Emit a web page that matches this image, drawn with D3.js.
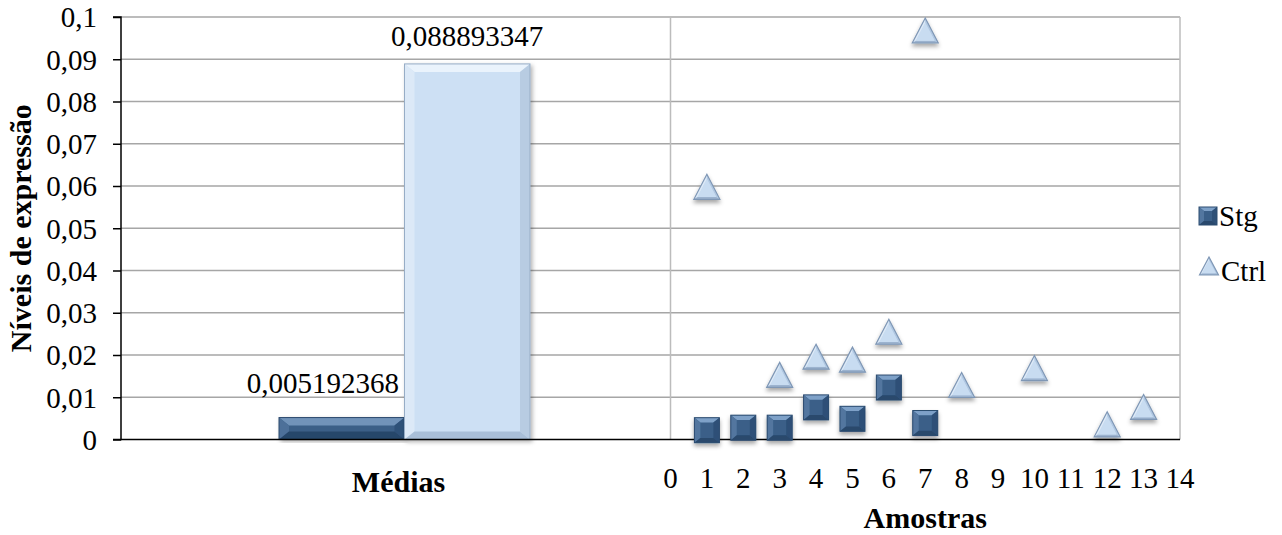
<!DOCTYPE html>
<html>
<head>
<meta charset="utf-8">
<script src="https://cdn.jsdelivr.net/npm/d3@7"></script>
<style>
  html, body { margin: 0; padding: 0; background: #fff; }
  svg { display: block; }
</style>
</head>
<body>
<svg id="chart" width="1282" height="535"></svg>
<script>
// Mean expression per group
const categories = ["Médias"];
const seriesNames = ["Stg", "Ctrl"];
const meanValues = [0.005192368, 0.088893347];
const meanLabels = ["0,005192368", "0,088893347"];

// Individual samples
const stgSamples = [1, 2, 3, 4, 5, 6, 7];
const stgValues = [0.0022, 0.0028, 0.0028, 0.0076, 0.0049, 0.0123, 0.0039];
const ctrlSamples = [1, 3, 4, 5, 6, 7, 8, 10, 12, 13];
const ctrlValues = [0.0598, 0.0153, 0.0196, 0.0189, 0.0255, 0.0968, 0.0129, 0.0169, 0.0036, 0.0077];

// Axis ticks
const yTicks = [0, 0.01, 0.02, 0.03, 0.04, 0.05, 0.06, 0.07, 0.08, 0.09, 0.1];
const xSampleTicks = d3.range(0, 15);

const FONT = "'Liberation Serif', Tinos, 'Times New Roman', 'DejaVu Serif', serif";
const FS = 29, FS_TITLE = 30;

const svg = d3.select("#chart").attr("font-family", FONT);
const plotLeft = 121, plotRight = 1180, plotTop = 17, plotBottom = 439.5;
const splitX = 670.5;

const y = d3.scaleLinear().domain([0, 0.1]).range([plotBottom, plotTop]);
const xSample = d3.scaleLinear().domain([0, 14]).range([splitX, plotRight]);
const xCat = d3.scaleBand().domain(categories).range([plotLeft, 688]).paddingInner(0).paddingOuter(0.6295);
const xSeries = d3.scaleBand().domain(seriesNames).range([0, xCat.bandwidth()]);

const fmt = v => String(+v.toFixed(2)).replace(".", ",");

// Filters
const defs = svg.append("defs");
const sh = defs.append("filter").attr("id", "shadow").attr("x", "-30%").attr("y", "-30%").attr("width", "160%").attr("height", "170%");
sh.append("feDropShadow").attr("dx", 0).attr("dy", 3).attr("stdDeviation", 2).attr("flood-color", "#000").attr("flood-opacity", 0.35);
const shb = defs.append("filter").attr("id", "barShadow").attr("x", "-10%").attr("y", "-10%").attr("width", "125%").attr("height", "125%");
shb.append("feDropShadow").attr("dx", 2).attr("dy", 2).attr("stdDeviation", 2).attr("flood-color", "#000").attr("flood-opacity", 0.3);

// Grid lines
svg.append("g")
  .selectAll("line")
  .data(yTicks.filter(d => d > 0))
  .join("line")
  .attr("x1", plotLeft).attr("x2", plotRight)
  .attr("y1", d => y(d)).attr("y2", d => y(d))
  .attr("stroke", "#a6a6a6").attr("stroke-width", 1.5);

// Right frame and sample-axis divider
svg.append("line").attr("x1", plotRight).attr("x2", plotRight).attr("y1", plotTop).attr("y2", plotBottom)
  .attr("stroke", "#bcbcbc").attr("stroke-width", 1.5);
svg.append("line").attr("x1", xSample(0)).attr("x2", xSample(0)).attr("y1", plotTop).attr("y2", plotBottom)
  .attr("stroke", "#bcbcbc").attr("stroke-width", 1.5);

// Y axis
const yAxis = d3.axisLeft(y).tickValues(yTicks).tickFormat(fmt).tickSize(8).tickPadding(16);
const gy = svg.append("g").attr("transform", `translate(${plotLeft},0)`).call(yAxis)
  .attr("font-family", FONT).attr("font-size", FS);
gy.select(".domain").attr("stroke", "#000").attr("stroke-width", 1.5).attr("d", `M-8,${plotTop}H0V${plotBottom}H-8`);
gy.selectAll(".tick line").attr("stroke", "#000").attr("stroke-width", 1.5);
gy.selectAll(".tick text").attr("fill", "#000").attr("dy", "0.34em");

// Bevelled rectangle
function bevelRect(g, x, yy, w, h, b, c) {
  const bb = Math.min(b, h / 2, w / 2);
  const bv = Math.min(b * 0.8, h / 2);
  const P = pts => pts.map(p => p.join(",")).join(" ");
  const x0 = x, x1 = x + w, y0 = yy, y1 = yy + h;
  const ix0 = x0 + bb, ix1 = x1 - bb, iy0 = y0 + bv, iy1 = y1 - bv;
  const grp = g.append("g").attr("filter", c.filter || null);
  grp.append("rect").attr("x", x0).attr("y", y0).attr("width", w).attr("height", h).attr("fill", c.face);
  grp.append("polygon").attr("points", P([[x0, y0], [x1, y0], [ix1, iy0], [ix0, iy0]])).attr("fill", c.top);
  grp.append("polygon").attr("points", P([[x0, y0], [ix0, iy0], [ix0, iy1], [x0, y1]])).attr("fill", c.left);
  grp.append("polygon").attr("points", P([[x1, y0], [x1, y1], [ix1, iy1], [ix1, iy0]])).attr("fill", c.right);
  grp.append("polygon").attr("points", P([[x0, y1], [ix0, iy1], [ix1, iy1], [x1, y1]])).attr("fill", c.bottom);
  grp.append("rect").attr("x", x0).attr("y", y0).attr("width", w).attr("height", h)
    .attr("fill", "none").attr("stroke", c.stroke).attr("stroke-width", 1);
  return grp;
}

// Bevelled triangle centred at (cx, cy)
function bevelTri(g, cx, cy, w, h, c) {
  const P = pts => pts.map(p => p.join(",")).join(" ");
  const A = [cx, cy - h / 2], B = [cx - w / 2, cy + h / 2], C = [cx + w / 2, cy + h / 2];
  const ins = 0.72;
  const cen = [cx, cy + h / 6];
  const sc = p => [cen[0] + (p[0] - cen[0]) * ins, cen[1] + (p[1] - cen[1]) * ins];
  const a = sc(A), b = sc(B), cc = sc(C);
  const grp = g.append("g").attr("filter", c.filter || null);
  grp.append("polygon").attr("points", P([A, B, C])).attr("fill", c.face);
  grp.append("polygon").attr("points", P([A, B, b, a])).attr("fill", c.left);
  grp.append("polygon").attr("points", P([A, C, cc, a])).attr("fill", c.right);
  grp.append("polygon").attr("points", P([B, C, cc, b])).attr("fill", c.bottom);
  grp.append("polygon").attr("points", P([a, b, cc])).attr("fill", c.inner);
  grp.append("polygon").attr("points", P([A, B, C])).attr("fill", "none").attr("stroke", c.stroke).attr("stroke-width", 1.2);
  return grp;
}

const barStyle = {
  Stg: { face: "#3b5f87", top: "#7193b9", left: "#4d7099", right: "#2f5178", bottom: "#27466a", stroke: "#2c4b6f", filter: "url(#barShadow)" },
  Ctrl: { face: "#cde0f4", top: "#eaf3fc", left: "#dce9f7", right: "#b8cce2", bottom: "#a9bfd8", stroke: "#97adc6", filter: "url(#barShadow)" }
};
const squareStyle = { face: "#3a5f88", top: "#7ea1c8", left: "#52769f", right: "#2e5077", bottom: "#29486c", stroke: "#2c4c70", filter: "url(#shadow)" };
const triStyle = { face: "#c4d9ef", left: "#dce9f7", right: "#b1c8e2", bottom: "#9cb3cf", inner: "#c8dcf1", stroke: "#7f97b5", filter: "url(#shadow)" };

// Mean bars
const barsG = svg.append("g");
seriesNames.forEach((s, i) => {
  const bx = xCat(categories[0]) + xSeries(s);
  const bw = xSeries.bandwidth();
  const by = y(meanValues[i]);
  bevelRect(barsG, bx, by, bw, y(0) - by, 10, barStyle[s]);
});

// Bar value labels
const labelShift = [-19, 0];
const labelRise = [25, 18];
svg.append("g").selectAll("text")
  .data(seriesNames)
  .join("text")
  .attr("x", (s, i) => xCat(categories[0]) + xSeries(s) + xSeries.bandwidth() / 2 + labelShift[i])
  .attr("y", (s, i) => y(meanValues[i]) - labelRise[i])
  .attr("text-anchor", "middle")
  .attr("font-family", FONT)
  .attr("font-size", FS)
  .text((s, i) => meanLabels[i]);

// Baseline
svg.append("line").attr("x1", plotLeft).attr("x2", plotRight).attr("y1", y(0)).attr("y2", y(0))
  .attr("stroke", "#000").attr("stroke-width", 1.5);

// Sample markers
const markG = svg.append("g");
stgSamples.forEach((s, i) => {
  const cx = xSample(s), cy = y(stgValues[i]);
  bevelRect(markG, cx - 12.5, cy - 12.5, 25, 25, 6, squareStyle);
});
ctrlSamples.forEach((s, i) => {
  bevelTri(markG, xSample(s), y(ctrlValues[i]), 26, 25, triStyle);
});

// Sample axis labels
svg.append("g").selectAll("text")
  .data(xSampleTicks)
  .join("text")
  .attr("x", d => xSample(d))
  .attr("y", 488)
  .attr("text-anchor", "middle")
  .attr("font-family", FONT)
  .attr("font-size", FS)
  .text(d => d);

// Category label
svg.append("text")
  .attr("x", xCat(categories[0]) + xCat.bandwidth() / 2 - 6)
  .attr("y", 492)
  .attr("text-anchor", "middle")
  .attr("font-family", FONT)
  .attr("font-size", FS_TITLE).attr("font-weight", "bold")
  .text(categories[0]);

// Axis titles
svg.append("text")
  .attr("x", (xSample(0) + xSample(14)) / 2)
  .attr("y", 528)
  .attr("text-anchor", "middle")
  .attr("font-family", FONT)
  .attr("font-size", FS_TITLE).attr("font-weight", "bold")
  .text("Amostras");
svg.append("text")
  .attr("transform", `translate(31,${(plotTop + plotBottom) / 2}) rotate(-90)`)
  .attr("text-anchor", "middle")
  .attr("font-family", FONT)
  .attr("font-size", FS_TITLE).attr("font-weight", "bold")
  .text("Níveis de expressão");

// Legend
const lg = svg.append("g").attr("transform", "translate(1199,0)").attr("font-family", FONT).attr("font-size", FS);
bevelRect(lg, 0, 207, 18, 18, 5, Object.assign({}, squareStyle, { filter: null }));
lg.append("text").attr("x", 20).attr("y", 226).text(seriesNames[0]);
bevelTri(lg, 10, 266, 19, 18, Object.assign({}, triStyle, { filter: null }));
lg.append("text").attr("x", 22).attr("y", 281).text(seriesNames[1]);
</script>
</body>
</html>
